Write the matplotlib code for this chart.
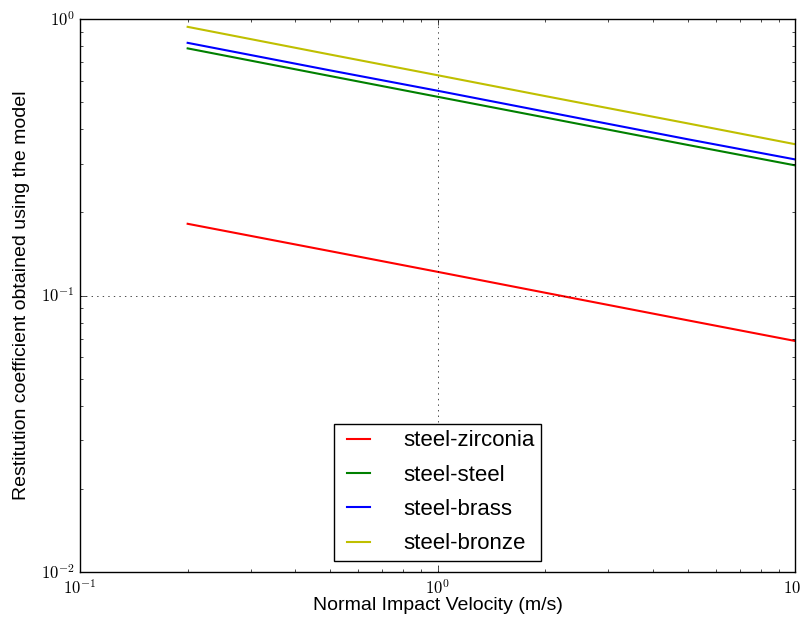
import matplotlib
matplotlib.use("Agg")
import matplotlib.pyplot as plt
from matplotlib.ticker import FuncFormatter

plt.style.use("classic")
plt.rcParams["font.family"] = ["Liberation Sans", "DejaVu Sans"]
plt.rcParams["mathtext.fontset"] = "cm"

velocity = [0.2, 0.5, 1.0, 2.0, 5.0, 10.0]
e_zirconia = [0.182, 0.145, 0.122, 0.1025, 0.0815, 0.0686]
e_steel = [0.784, 0.623, 0.524, 0.441, 0.351, 0.296]
e_brass = [0.821, 0.653, 0.551, 0.463, 0.368, 0.311]
e_bronze = [0.938, 0.745, 0.627, 0.527, 0.420, 0.353]


def pow10(v, pos):
    import math
    return r"$\mathrm{10^{%d}}$" % round(math.log10(v))


fig = plt.figure(figsize=(8, 6.18), dpi=100)
ax = fig.add_subplot(111)
ax.plot(velocity, e_zirconia, "r-", lw=1.5, label="steel-zirconia")
ax.plot(velocity, e_steel, "g-", lw=1.5, label="steel-steel")
ax.plot(velocity, e_brass, "b-", lw=1.5, label="steel-brass")
ax.plot(velocity, e_bronze, "y-", lw=1.5, label="steel-bronze")
ax.set_xscale("log")
ax.set_yscale("log")
ax.set_xlim(0.1, 10)
ax.set_ylim(0.01, 1)
ax.xaxis.set_major_formatter(FuncFormatter(pow10))
ax.yaxis.set_major_formatter(FuncFormatter(pow10))
ax.grid(True)
ax.tick_params(labelsize=12, pad=4)
ax.set_xlabel("Normal Impact Velocity (m/s)", fontsize=14, labelpad=0)
ax.set_ylabel("Restitution coefficient obtained using the model", fontsize=14, labelpad=8)
ax.legend(loc="lower center", fontsize=16, handlelength=1.6, handletextpad=1.2,
          labelspacing=0.6, borderpad=0.3)
plt.subplots_adjust(left=0.1, right=0.994, top=0.969, bottom=0.074)
plt.savefig("out.png")
